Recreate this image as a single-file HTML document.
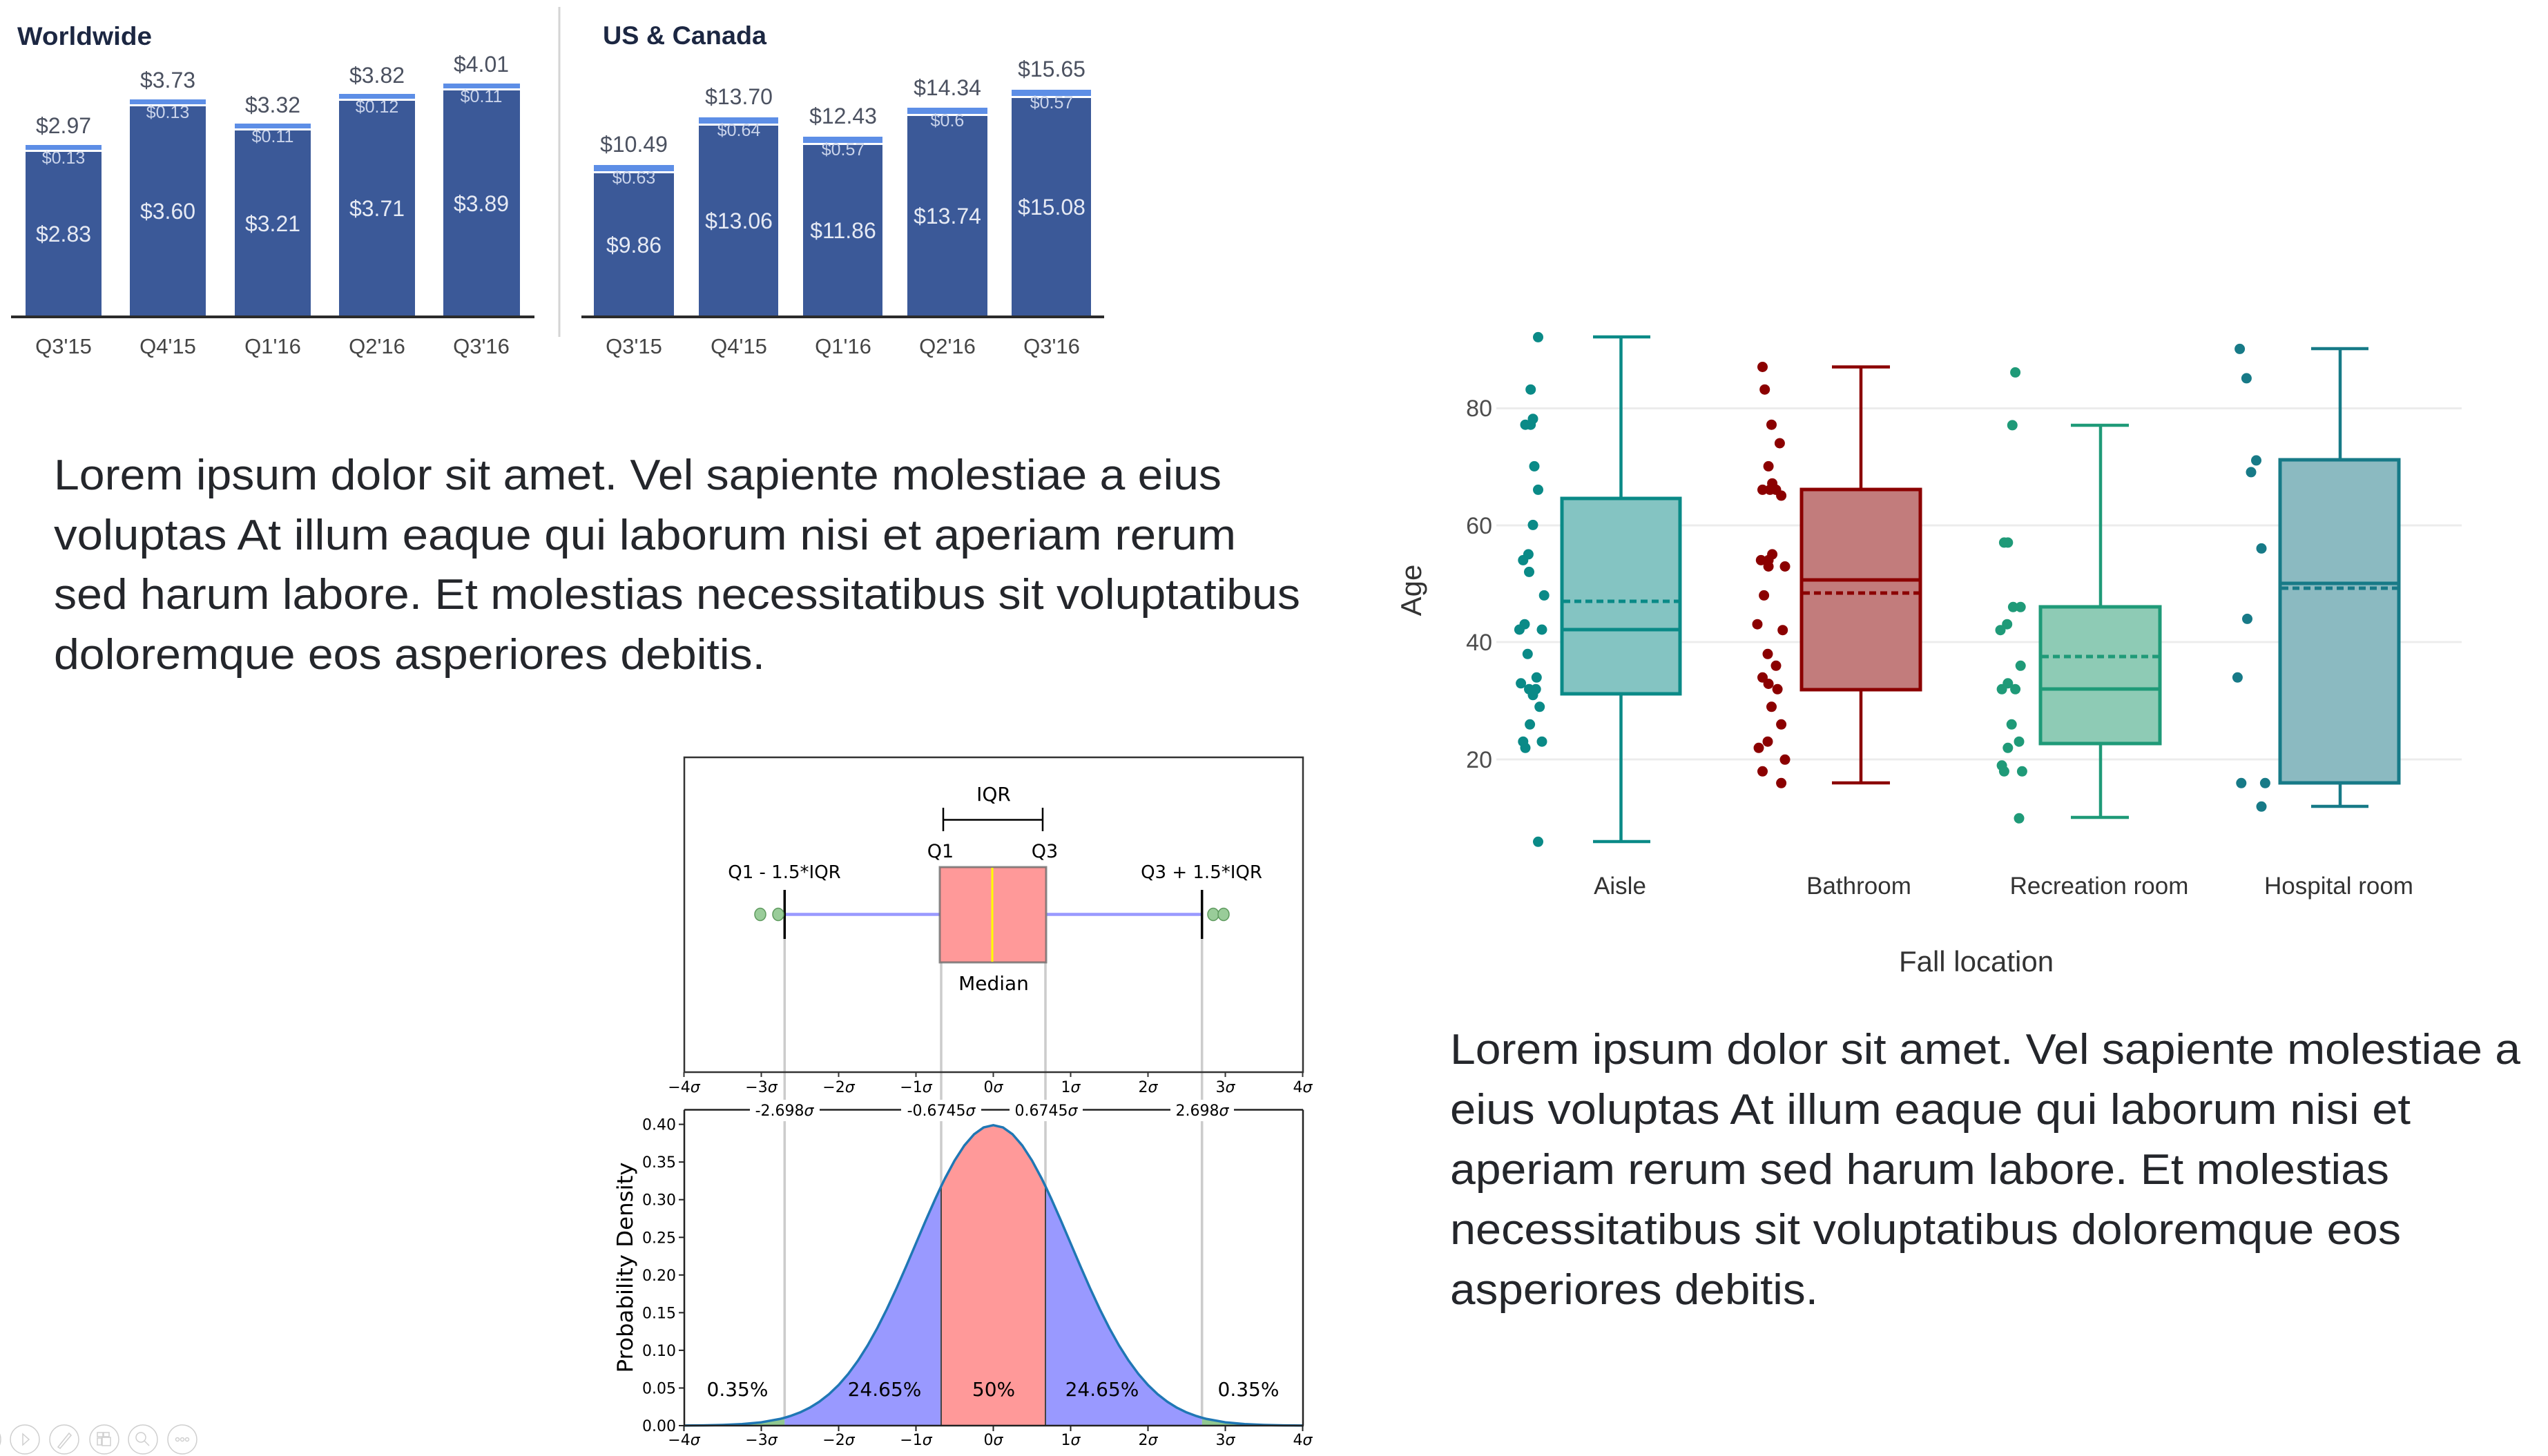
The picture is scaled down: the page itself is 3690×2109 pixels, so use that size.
<!DOCTYPE html>
<html><head><meta charset="utf-8"><style>
html,body{margin:0;padding:0;background:#fff;}
svg{display:block;}
</style></head><body>
<svg xmlns="http://www.w3.org/2000/svg" width="3690" height="2109" viewBox="0 0 3690 2109">
<rect width="3690" height="2109" fill="#fff"/>

<!-- ================= WORLDWIDE ================= -->
<g font-family="Liberation Sans, Arial, sans-serif">
<text x="25" y="65" font-size="37" font-weight="bold" fill="#1c2742" textLength="195" lengthAdjust="spacingAndGlyphs">Worldwide</text>
<line x1="810" y1="10" x2="810" y2="488" stroke="#d4d4d4" stroke-width="3"/>
<text x="873" y="64" font-size="37" font-weight="bold" fill="#1c2742" textLength="237" lengthAdjust="spacingAndGlyphs">US &amp; Canada</text>

<!-- worldwide bars -->
<g>
<rect x="37" y="220" width="110" height="238" fill="#3b5998"/><rect x="37" y="210" width="110" height="7" fill="#5d8ee6"/>
<rect x="188" y="154" width="110" height="304" fill="#3b5998"/><rect x="188" y="144" width="110" height="7" fill="#5d8ee6"/>
<rect x="340" y="189" width="110" height="269" fill="#3b5998"/><rect x="340" y="179" width="110" height="7" fill="#5d8ee6"/>
<rect x="491" y="146" width="110" height="312" fill="#3b5998"/><rect x="491" y="136" width="110" height="7" fill="#5d8ee6"/>
<rect x="642" y="131" width="111" height="327" fill="#3b5998"/><rect x="642" y="121" width="111" height="7" fill="#5d8ee6"/>
</g>
<line x1="16" y1="459" x2="774" y2="459" stroke="#2b2b2b" stroke-width="4"/>
<g font-size="32" fill="#4b5160" text-anchor="middle">
<text x="92" y="193">$2.97</text><text x="243" y="127">$3.73</text><text x="395" y="163">$3.32</text><text x="546" y="120">$3.82</text><text x="697" y="104">$4.01</text>
</g>
<g font-size="25" fill="#c9d3ea" text-anchor="middle">
<text x="92" y="237">$0.13</text><text x="243" y="171">$0.13</text><text x="395" y="206">$0.11</text><text x="546" y="163">$0.12</text><text x="697" y="148">$0.11</text>
</g>
<g font-size="32" fill="#e6eaf4" text-anchor="middle">
<text x="92" y="350">$2.83</text><text x="243" y="317">$3.60</text><text x="395" y="335">$3.21</text><text x="546" y="313">$3.71</text><text x="697" y="306">$3.89</text>
</g>
<g font-size="31" fill="#454545" text-anchor="middle">
<text x="92" y="512">Q3'15</text><text x="243" y="512">Q4'15</text><text x="395" y="512">Q1'16</text><text x="546" y="512">Q2'16</text><text x="697" y="512">Q3'16</text>
</g>

<!-- US bars -->
<g>
<rect x="860" y="251" width="116" height="207" fill="#3b5998"/><rect x="860" y="239" width="116" height="9" fill="#5d8ee6"/>
<rect x="1012" y="182" width="115" height="276" fill="#3b5998"/><rect x="1012" y="170" width="115" height="9" fill="#5d8ee6"/>
<rect x="1163" y="210" width="115" height="248" fill="#3b5998"/><rect x="1163" y="198" width="115" height="9" fill="#5d8ee6"/>
<rect x="1314" y="168" width="116" height="290" fill="#3b5998"/><rect x="1314" y="156" width="116" height="9" fill="#5d8ee6"/>
<rect x="1465" y="142" width="115" height="316" fill="#3b5998"/><rect x="1465" y="130" width="115" height="9" fill="#5d8ee6"/>
</g>
<line x1="842" y1="459" x2="1599" y2="459" stroke="#2b2b2b" stroke-width="4"/>
<g font-size="32" fill="#4b5160" text-anchor="middle">
<text x="918" y="220">$10.49</text><text x="1070" y="151">$13.70</text><text x="1221" y="179">$12.43</text><text x="1372" y="138">$14.34</text><text x="1523" y="111">$15.65</text>
</g>
<g font-size="25" fill="#c9d3ea" text-anchor="middle">
<text x="918" y="266">$0.63</text><text x="1070" y="197">$0.64</text><text x="1221" y="225">$0.57</text><text x="1372" y="183">$0.6</text><text x="1523" y="157">$0.57</text>
</g>
<g font-size="32" fill="#e6eaf4" text-anchor="middle">
<text x="918" y="366">$9.86</text><text x="1070" y="331">$13.06</text><text x="1221" y="345">$11.86</text><text x="1372" y="324">$13.74</text><text x="1523" y="311">$15.08</text>
</g>
<g font-size="31" fill="#454545" text-anchor="middle">
<text x="918" y="512">Q3'15</text><text x="1070" y="512">Q4'15</text><text x="1221" y="512">Q1'16</text><text x="1372" y="512">Q2'16</text><text x="1523" y="512">Q3'16</text>
</g>
</g>

<!-- ================= PARAGRAPHS ================= -->
<g font-family="Liberation Sans, Arial, sans-serif" font-size="62" fill="#24262b">
<text x="78" y="709" textLength="1691" lengthAdjust="spacingAndGlyphs">Lorem ipsum dolor sit amet. Vel sapiente molestiae a eius</text>
<text x="78" y="796" textLength="1712" lengthAdjust="spacingAndGlyphs">voluptas At illum eaque qui laborum nisi et aperiam rerum</text>
<text x="78" y="882" textLength="1805" lengthAdjust="spacingAndGlyphs">sed harum labore. Et molestias necessitatibus sit voluptatibus</text>
<text x="78" y="969" textLength="1030" lengthAdjust="spacingAndGlyphs">doloremque eos asperiores debitis.</text>

<text x="2100" y="1541" textLength="1550" lengthAdjust="spacingAndGlyphs">Lorem ipsum dolor sit amet. Vel sapiente molestiae a</text>
<text x="2100" y="1628" textLength="1391" lengthAdjust="spacingAndGlyphs">eius voluptas At illum eaque qui laborum nisi et</text>
<text x="2100" y="1715" textLength="1360" lengthAdjust="spacingAndGlyphs">aperiam rerum sed harum labore. Et molestias</text>
<text x="2100" y="1802" textLength="1377" lengthAdjust="spacingAndGlyphs">necessitatibus sit voluptatibus doloremque eos</text>
<text x="2100" y="1889" textLength="533" lengthAdjust="spacingAndGlyphs">asperiores debitis.</text>
</g>

<!-- ================= BOXPLOT (Age) ================= -->
<g font-family="Liberation Sans, Arial, sans-serif">
<g stroke="#ececec" stroke-width="3">
<line x1="2167" y1="591.5" x2="3565" y2="591.5"/>
<line x1="2167" y1="761" x2="3565" y2="761"/>
<line x1="2167" y1="930" x2="3565" y2="930"/>
<line x1="2167" y1="1100" x2="3565" y2="1100"/>
</g>
<g font-size="34" fill="#4d4d4d" text-anchor="end">
<text x="2161" y="603">80</text><text x="2161" y="773">60</text><text x="2161" y="942">40</text><text x="2161" y="1112">20</text>
</g>
<text transform="translate(2058,855) rotate(-90)" font-size="42" fill="#333" text-anchor="middle">Age</text>
<g font-size="35" fill="#333" text-anchor="middle">
<text x="2346" y="1295">Aisle</text><text x="2692" y="1295">Bathroom</text><text x="3040" y="1295">Recreation room</text><text x="3387" y="1295">Hospital room</text>
</g>
<text x="2862" y="1407" font-size="42" fill="#333" text-anchor="middle">Fall location</text>

<!-- Aisle -->
<g stroke="#0a8a87" fill="none">
<line x1="2347.5" y1="488" x2="2347.5" y2="722" stroke-width="4.5"/>
<line x1="2347.5" y1="1005" x2="2347.5" y2="1219" stroke-width="4.5"/>
<line x1="2307" y1="488" x2="2390" y2="488" stroke-width="4.5"/>
<line x1="2307" y1="1219" x2="2390" y2="1219" stroke-width="4.5"/>
<rect x="2262" y="722" width="171" height="283" fill="#84c4c2" stroke-width="5"/>
<line x1="2264" y1="912" x2="2431" y2="912" stroke-width="5"/>
<line x1="2264" y1="871" x2="2431" y2="871" stroke-width="5" stroke-dasharray="10,6"/>
</g>
<g fill="#0a8a87">
<circle cx="2227.5" cy="488.4" r="7.5"/><circle cx="2216.7" cy="564.2" r="7.5"/><circle cx="2220" cy="606.7" r="7.5"/><circle cx="2209" cy="615.2" r="7.5"/><circle cx="2216.7" cy="615.2" r="7.5"/><circle cx="2222" cy="675.4" r="7.5"/><circle cx="2227.5" cy="709.4" r="7.5"/><circle cx="2220" cy="760.4" r="7.5"/><circle cx="2213.4" cy="802.9" r="7.5"/><circle cx="2205.8" cy="811.4" r="7.5"/><circle cx="2214.5" cy="828.4" r="7.5"/><circle cx="2236.2" cy="862.4" r="7.5"/><circle cx="2208" cy="904.2" r="7.5"/><circle cx="2200.4" cy="912" r="7.5"/><circle cx="2233" cy="912" r="7.5"/><circle cx="2212.3" cy="947.3" r="7.5"/><circle cx="2225.3" cy="981.3" r="7.5"/><circle cx="2202.6" cy="989.8" r="7.5"/><circle cx="2214.5" cy="998.3" r="7.5"/><circle cx="2224.2" cy="998.3" r="7.5"/><circle cx="2220" cy="1006.8" r="7.5"/><circle cx="2229.7" cy="1023.8" r="7.5"/><circle cx="2215.6" cy="1049.3" r="7.5"/><circle cx="2205.8" cy="1074.2" r="7.5"/><circle cx="2209" cy="1083.3" r="7.5"/><circle cx="2233" cy="1074.2" r="7.5"/><circle cx="2227.5" cy="1219.3" r="7.5"/>
</g>

<!-- Bathroom -->
<g stroke="#8b0000" fill="none">
<line x1="2695" y1="531.5" x2="2695" y2="709" stroke-width="4.5"/>
<line x1="2695" y1="999" x2="2695" y2="1134" stroke-width="4.5"/>
<line x1="2653" y1="531.5" x2="2737" y2="531.5" stroke-width="4.5"/>
<line x1="2653" y1="1134" x2="2737" y2="1134" stroke-width="4.5"/>
<rect x="2609" y="709" width="172" height="290" fill="#c27c7c" stroke-width="5"/>
<line x1="2611" y1="840" x2="2779" y2="840" stroke-width="5"/>
<line x1="2611" y1="859" x2="2779" y2="859" stroke-width="5" stroke-dasharray="10,6"/>
</g>
<g fill="#8b0000">
<circle cx="2552.5" cy="531.5" r="7.5"/><circle cx="2555.7" cy="564.2" r="7.5"/><circle cx="2565.5" cy="615.2" r="7.5"/><circle cx="2577.4" cy="642" r="7.5"/><circle cx="2561.1" cy="675.4" r="7.5"/><circle cx="2566.6" cy="700.2" r="7.5"/><circle cx="2552.5" cy="709.4" r="7.5"/><circle cx="2563.3" cy="709.4" r="7.5"/><circle cx="2572" cy="709.4" r="7.5"/><circle cx="2579.6" cy="717.9" r="7.5"/><circle cx="2550.3" cy="811.4" r="7.5"/><circle cx="2561.1" cy="811.4" r="7.5"/><circle cx="2566.6" cy="802.9" r="7.5"/><circle cx="2561.1" cy="820.5" r="7.5"/><circle cx="2585" cy="820.5" r="7.5"/><circle cx="2554.6" cy="862.4" r="7.5"/><circle cx="2545" cy="904.2" r="7.5"/><circle cx="2581.7" cy="912.7" r="7.5"/><circle cx="2560" cy="947.3" r="7.5"/><circle cx="2572" cy="964.3" r="7.5"/><circle cx="2552.5" cy="981.3" r="7.5"/><circle cx="2561.1" cy="990.5" r="7.5"/><circle cx="2574.1" cy="998.3" r="7.5"/><circle cx="2565.5" cy="1023.8" r="7.5"/><circle cx="2579.6" cy="1049.3" r="7.5"/><circle cx="2560" cy="1074.2" r="7.5"/><circle cx="2547" cy="1083.3" r="7.5"/><circle cx="2585" cy="1100.3" r="7.5"/><circle cx="2552.5" cy="1117.3" r="7.5"/><circle cx="2579.6" cy="1134.3" r="7.5"/>
</g>

<!-- Recreation room -->
<g stroke="#1f9a78" fill="none">
<line x1="3042" y1="616" x2="3042" y2="879" stroke-width="4.5"/>
<line x1="3042" y1="1077" x2="3042" y2="1184" stroke-width="4.5"/>
<line x1="2999" y1="616" x2="3083" y2="616" stroke-width="4.5"/>
<line x1="2999" y1="1184" x2="3083" y2="1184" stroke-width="4.5"/>
<rect x="2955" y="879" width="173" height="198" fill="#8ecbb5" stroke-width="5"/>
<line x1="2957" y1="998" x2="3126" y2="998" stroke-width="5"/>
<line x1="2957" y1="951" x2="3126" y2="951" stroke-width="5" stroke-dasharray="10,6"/>
</g>
<g fill="#1f9a78">
<circle cx="2918.6" cy="539.4" r="7.5"/><circle cx="2914.3" cy="615.9" r="7.5"/><circle cx="2907.8" cy="785.9" r="7.5"/><circle cx="2902.4" cy="785.9" r="7.5"/><circle cx="2915.4" cy="879.3" r="7.5"/><circle cx="2926.2" cy="879.3" r="7.5"/><circle cx="2906.7" cy="904.2" r="7.5"/><circle cx="2897" cy="912.7" r="7.5"/><circle cx="2926.2" cy="964.3" r="7.5"/><circle cx="2907.8" cy="989.8" r="7.5"/><circle cx="2899.1" cy="998.3" r="7.5"/><circle cx="2918.6" cy="998.3" r="7.5"/><circle cx="2913.2" cy="1049.3" r="7.5"/><circle cx="2924" cy="1074.2" r="7.5"/><circle cx="2907.8" cy="1083.3" r="7.5"/><circle cx="2899.1" cy="1108.8" r="7.5"/><circle cx="2902.4" cy="1117.3" r="7.5"/><circle cx="2928.4" cy="1117.3" r="7.5"/><circle cx="2924" cy="1185.3" r="7.5"/>
</g>

<!-- Hospital room -->
<g stroke="#177a87" fill="none">
<line x1="3389" y1="505" x2="3389" y2="666" stroke-width="4.5"/>
<line x1="3389" y1="1134" x2="3389" y2="1168" stroke-width="4.5"/>
<line x1="3347" y1="505" x2="3430" y2="505" stroke-width="4.5"/>
<line x1="3347" y1="1168" x2="3430" y2="1168" stroke-width="4.5"/>
<rect x="3302" y="666" width="172" height="468" fill="#8bbac1" stroke-width="5"/>
<line x1="3304" y1="845" x2="3472" y2="845" stroke-width="5"/>
<line x1="3304" y1="852" x2="3472" y2="852" stroke-width="5" stroke-dasharray="10,6"/>
</g>
<g fill="#177a87">
<circle cx="3243.6" cy="505.4" r="7.5"/><circle cx="3253.4" cy="547.9" r="7.5"/><circle cx="3267.5" cy="666.9" r="7.5"/><circle cx="3260" cy="683.9" r="7.5"/><circle cx="3275" cy="794.4" r="7.5"/><circle cx="3254.5" cy="896.4" r="7.5"/><circle cx="3240.4" cy="981.3" r="7.5"/><circle cx="3245.8" cy="1134.3" r="7.5"/><circle cx="3280.4" cy="1134.3" r="7.5"/><circle cx="3275" cy="1168.3" r="7.5"/>
</g>
</g>

<!-- ================= BOX + NORMAL DIST ================= -->
<g font-family="DejaVu Sans, sans-serif">
<g stroke="#cccccc" stroke-width="3.5">
<line x1="1136.3" y1="1360" x2="1136.3" y2="2065"/>
<line x1="1363" y1="1394" x2="1363" y2="2065"/>
<line x1="1514" y1="1394" x2="1514" y2="2065"/>
<line x1="1740.7" y1="1360" x2="1740.7" y2="2065"/>
</g>

<rect x="991" y="1097" width="896" height="456" fill="none" stroke="#333" stroke-width="2.5"/>
<line x1="1136.3" y1="1324.5" x2="1361" y2="1324.5" stroke="#9999ff" stroke-width="4.5"/>
<line x1="1516" y1="1324.5" x2="1740.7" y2="1324.5" stroke="#9999ff" stroke-width="4.5"/>
<line x1="1136.3" y1="1289" x2="1136.3" y2="1360" stroke="#000" stroke-width="3.5"/>
<line x1="1740.7" y1="1289" x2="1740.7" y2="1360" stroke="#000" stroke-width="3.5"/>
<rect x="1361" y="1256" width="154" height="138" fill="#ff9999" stroke="#6b6b6b" stroke-width="3" stroke-opacity="0.8"/>
<line x1="1437" y1="1257" x2="1437" y2="1393" stroke="#ffff00" stroke-width="3"/>
<g fill="#99cc99" stroke="#5e9a5e" stroke-width="1.5">
<ellipse cx="1101" cy="1324.5" rx="8" ry="9"/><ellipse cx="1127" cy="1324.5" rx="8" ry="9"/><ellipse cx="1757" cy="1324.5" rx="8" ry="9"/><ellipse cx="1772" cy="1324.5" rx="8" ry="9"/>
</g>
<g stroke="#000" stroke-width="2.5">
<line x1="1366" y1="1187.5" x2="1510" y2="1187.5"/>
<line x1="1366" y1="1170" x2="1366" y2="1204"/>
<line x1="1510" y1="1170" x2="1510" y2="1204"/>
</g>
<g fill="#000" text-anchor="middle">
<text x="1439" y="1160" font-size="28">IQR</text>
<text x="1362" y="1242" font-size="27">Q1</text>
<text x="1513" y="1242" font-size="27">Q3</text>
<text x="1136" y="1272" font-size="26">Q1 - 1.5*IQR</text>
<text x="1740" y="1272" font-size="26">Q3 + 1.5*IQR</text>
<text x="1439" y="1434" font-size="28">Median</text>
</g>
<g stroke="#333" stroke-width="2">
<line x1="990.5" y1="1553" x2="990.5" y2="1560"/><line x1="1102.5" y1="1553" x2="1102.5" y2="1560"/><line x1="1214.5" y1="1553" x2="1214.5" y2="1560"/><line x1="1326.5" y1="1553" x2="1326.5" y2="1560"/><line x1="1438.5" y1="1553" x2="1438.5" y2="1560"/><line x1="1550.5" y1="1553" x2="1550.5" y2="1560"/><line x1="1662.5" y1="1553" x2="1662.5" y2="1560"/><line x1="1774.5" y1="1553" x2="1774.5" y2="1560"/><line x1="1886.5" y1="1553" x2="1886.5" y2="1560"/>
</g>
<g font-size="22" fill="#000" text-anchor="middle">
<text x="990.5" y="1582">−4<tspan font-style="italic">σ</tspan></text>
<text x="1102.5" y="1582">−3<tspan font-style="italic">σ</tspan></text>
<text x="1214.5" y="1582">−2<tspan font-style="italic">σ</tspan></text>
<text x="1326.5" y="1582">−1<tspan font-style="italic">σ</tspan></text>
<text x="1438.5" y="1582">0<tspan font-style="italic">σ</tspan></text>
<text x="1550.5" y="1582">1<tspan font-style="italic">σ</tspan></text>
<text x="1662.5" y="1582">2<tspan font-style="italic">σ</tspan></text>
<text x="1774.5" y="1582">3<tspan font-style="italic">σ</tspan></text>
<text x="1886.5" y="1582">4<tspan font-style="italic">σ</tspan></text>
</g>

<path d="M990.5,2065 L990.5,2064.85 L1018.5,2064.6 L1046.5,2064 L1074.5,2062.8 L1102.5,2060.2 L1130.5,2055.1 L1136.3,2053.6 L1136.3,2065 Z" fill="#90c890"/>
<path d="M1740.7,2065 L1740.7,2053.6 L1746.5,2055.1 L1774.5,2060.2 L1802.5,2062.8 L1830.5,2064 L1858.5,2064.6 L1886.5,2064.85 L1886.5,2065 Z" fill="#90c890"/>
<path d="M1136.3,2065 L1136.3,2053.6 L1144.5,2051.1 L1158.5,2045.9 L1172.5,2039.1 L1186.5,2030.4 L1200.5,2019.5 L1214.5,2006.1 L1228.5,1990 L1242.5,1970.9 L1256.5,1948.8 L1270.5,1923.7 L1284.5,1895.9 L1298.5,1865.7 L1312.5,1833.8 L1326.5,1801 L1340.5,1768.2 L1354.5,1736.5 L1363,1718.3 L1363,2065 Z" fill="#9999ff"/>
<path d="M1514,2065 L1514,1718.3 L1522.5,1736.5 L1536.5,1768.2 L1550.5,1801 L1564.5,1833.8 L1578.5,1865.7 L1592.5,1895.9 L1606.5,1923.7 L1620.5,1948.8 L1634.5,1970.9 L1648.5,1990 L1662.5,2006.1 L1676.5,2019.5 L1690.5,2030.4 L1704.5,2039.1 L1718.5,2045.9 L1732.5,2051.1 L1740.7,2053.6 L1740.7,2065 Z" fill="#9999ff"/>
<path d="M1363,2065 L1363,1718.3 L1368.5,1707 L1382.5,1680.9 L1396.5,1659.3 L1410.5,1643.1 L1424.5,1633.1 L1438.5,1629.8 L1452.5,1633.1 L1466.5,1643.1 L1480.5,1659.3 L1494.5,1680.9 L1508.5,1707 L1514,1718.3 L1514,2065 Z" fill="#ff9999"/>
<g stroke="#cccccc" stroke-width="3.5">
<line x1="1136.3" y1="1625" x2="1136.3" y2="2053"/>
<line x1="1740.7" y1="1625" x2="1740.7" y2="2053"/>
</g>
<line x1="1363" y1="1718" x2="1363" y2="2065" stroke="#444" stroke-width="2"/>
<line x1="1514" y1="1718" x2="1514" y2="2065" stroke="#444" stroke-width="2"/>
<path d="M990.5,2064.85 L1018.5,2064.6 L1046.5,2064 L1074.5,2062.8 L1102.5,2060.2 L1130.5,2055.1 L1136.3,2053.6 L1144.5,2051.1 L1158.5,2045.9 L1172.5,2039.1 L1186.5,2030.4 L1200.5,2019.5 L1214.5,2006.1 L1228.5,1990 L1242.5,1970.9 L1256.5,1948.8 L1270.5,1923.7 L1284.5,1895.9 L1298.5,1865.7 L1312.5,1833.8 L1326.5,1801 L1340.5,1768.2 L1354.5,1736.5 L1363,1718.3 L1368.5,1707 L1382.5,1680.9 L1396.5,1659.3 L1410.5,1643.1 L1424.5,1633.1 L1438.5,1629.8 L1452.5,1633.1 L1466.5,1643.1 L1480.5,1659.3 L1494.5,1680.9 L1508.5,1707 L1514,1718.3 L1522.5,1736.5 L1536.5,1768.2 L1550.5,1801 L1564.5,1833.8 L1578.5,1865.7 L1592.5,1895.9 L1606.5,1923.7 L1620.5,1948.8 L1634.5,1970.9 L1648.5,1990 L1662.5,2006.1 L1676.5,2019.5 L1690.5,2030.4 L1704.5,2039.1 L1718.5,2045.9 L1732.5,2051.1 L1740.7,2053.6 L1746.5,2055.1 L1774.5,2060.2 L1802.5,2062.8 L1830.5,2064 L1858.5,2064.6 L1886.5,2064.85" fill="none" stroke="#1f77b4" stroke-width="3.5" stroke-linejoin="round"/>

<line x1="991" y1="1607.5" x2="1887" y2="1607.5" stroke="#222" stroke-width="2.5"/>
<line x1="991" y1="1607.5" x2="991" y2="2065" stroke="#222" stroke-width="2.5"/>
<line x1="1887" y1="1607.5" x2="1887" y2="2065" stroke="#222" stroke-width="2.5"/>
<line x1="990" y1="2065" x2="1888" y2="2065" stroke="#222" stroke-width="2.5"/>
<g fill="#fff">
<rect x="1086" y="1593" width="101" height="31"/>
<rect x="1305" y="1593" width="116" height="31"/>
<rect x="1462" y="1593" width="106" height="31"/>
<rect x="1695" y="1593" width="92" height="31"/>
</g>
<g font-size="22" fill="#000" text-anchor="middle">
<text x="1136" y="1616">-2.698<tspan font-style="italic">σ</tspan></text>
<text x="1363" y="1616">-0.6745<tspan font-style="italic">σ</tspan></text>
<text x="1515" y="1616">0.6745<tspan font-style="italic">σ</tspan></text>
<text x="1741" y="1616">2.698<tspan font-style="italic">σ</tspan></text>
</g>
<g stroke="#222" stroke-width="2">
<line x1="983" y1="2065" x2="991" y2="2065"/><line x1="983" y1="2010.5" x2="991" y2="2010.5"/><line x1="983" y1="1955.9" x2="991" y2="1955.9"/><line x1="983" y1="1901.4" x2="991" y2="1901.4"/><line x1="983" y1="1846.8" x2="991" y2="1846.8"/><line x1="983" y1="1792.3" x2="991" y2="1792.3"/><line x1="983" y1="1737.7" x2="991" y2="1737.7"/><line x1="983" y1="1683.2" x2="991" y2="1683.2"/><line x1="983" y1="1628.6" x2="991" y2="1628.6"/>
</g>
<g font-size="22" fill="#000" text-anchor="end">
<text x="979" y="2073">0.00</text><text x="979" y="2018.5">0.05</text><text x="979" y="1963.9">0.10</text><text x="979" y="1909.4">0.15</text><text x="979" y="1854.8">0.20</text><text x="979" y="1800.3">0.25</text><text x="979" y="1745.7">0.30</text><text x="979" y="1691.2">0.35</text><text x="979" y="1636.6">0.40</text>
</g>
<text transform="translate(916,1836) rotate(-90)" font-size="31" fill="#000" text-anchor="middle" textLength="305" lengthAdjust="spacingAndGlyphs">Probability Density</text>
<g stroke="#222" stroke-width="2">
<line x1="990.5" y1="2065" x2="990.5" y2="2073"/><line x1="1102.5" y1="2065" x2="1102.5" y2="2073"/><line x1="1214.5" y1="2065" x2="1214.5" y2="2073"/><line x1="1326.5" y1="2065" x2="1326.5" y2="2073"/><line x1="1438.5" y1="2065" x2="1438.5" y2="2073"/><line x1="1550.5" y1="2065" x2="1550.5" y2="2073"/><line x1="1662.5" y1="2065" x2="1662.5" y2="2073"/><line x1="1774.5" y1="2065" x2="1774.5" y2="2073"/><line x1="1886.5" y1="2065" x2="1886.5" y2="2073"/>
</g>
<g font-size="22" fill="#000" text-anchor="middle">
<text x="990.5" y="2093">−4<tspan font-style="italic">σ</tspan></text>
<text x="1102.5" y="2093">−3<tspan font-style="italic">σ</tspan></text>
<text x="1214.5" y="2093">−2<tspan font-style="italic">σ</tspan></text>
<text x="1326.5" y="2093">−1<tspan font-style="italic">σ</tspan></text>
<text x="1438.5" y="2093">0<tspan font-style="italic">σ</tspan></text>
<text x="1550.5" y="2093">1<tspan font-style="italic">σ</tspan></text>
<text x="1662.5" y="2093">2<tspan font-style="italic">σ</tspan></text>
<text x="1774.5" y="2093">3<tspan font-style="italic">σ</tspan></text>
<text x="1886.5" y="2093">4<tspan font-style="italic">σ</tspan></text>
</g>
<g font-size="28" fill="#000" text-anchor="middle">
<text x="1068" y="2022">0.35%</text>
<text x="1281" y="2022">24.65%</text>
<text x="1439" y="2022">50%</text>
<text x="1596" y="2022">24.65%</text>
<text x="1808" y="2022">0.35%</text>
</g>
</g>

<!-- ================= faint toolbar icons ================= -->
<g fill="none" stroke="#cfcfcf" stroke-width="1.5">
<circle cx="-20" cy="2085" r="21"/>
<circle cx="36" cy="2085" r="21"/>
<circle cx="93" cy="2085" r="21"/>
<circle cx="151" cy="2085" r="21"/>
<circle cx="207" cy="2085" r="21"/>
<circle cx="264" cy="2085" r="21"/>
<path d="M33,2077 L42,2085 L33,2093 Z"/>
<path d="M84,2096 L100,2076 L103,2079 L87,2098 Z"/>
<rect x="141" y="2075" width="8" height="6"/><rect x="150" y="2075" width="8" height="6"/><rect x="141" y="2083" width="6" height="10"/><rect x="148" y="2082" width="12" height="12"/>
<circle cx="204" cy="2082" r="7"/><line x1="209" y1="2087" x2="216" y2="2094"/>
<circle cx="257" cy="2085" r="2.5"/><circle cx="264" cy="2085" r="2.5"/><circle cx="271" cy="2085" r="2.5"/>
</g>
</svg>
</body></html>
